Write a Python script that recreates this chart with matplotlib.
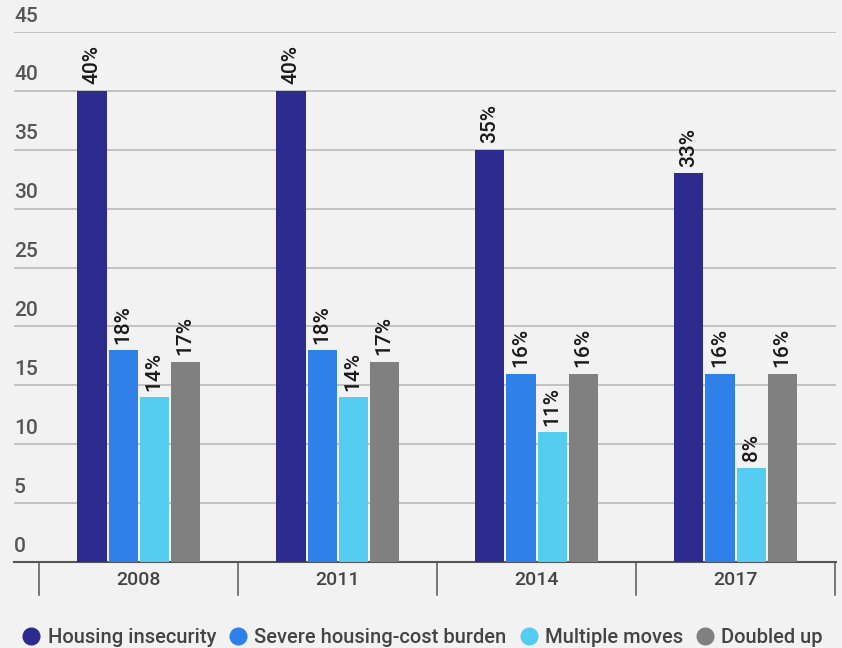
import matplotlib.pyplot as plt
from matplotlib.lines import Line2D
import numpy as np

plt.rcParams['font.family'] = ['Roboto', 'DejaVu Sans']

years = ['2008', '2011', '2014', '2017']
series = ['Housing insecurity', 'Severe housing-cost burden', 'Multiple moves', 'Doubled up']
housing_insecurity = [40, 40, 35, 33]
cost_burden = [18, 18, 16, 16]
multiple_moves = [14, 14, 11, 8]
doubled_up = [17, 17, 16, 16]
colors = ['#2e2b8f', '#2f80e8', '#55cdf0', '#808080']
bg = '#f2f2f2'

fig = plt.figure(figsize=(8.42, 6.48), dpi=100, facecolor=bg)
ax = fig.add_axes([14 / 842, 86 / 648, 822 / 842, 530 / 648], facecolor=bg)

x = np.arange(len(years))
width = 0.146
step = 0.156
data = [housing_insecurity, cost_burden, multiple_moves, doubled_up]
for i, (vals, col) in enumerate(zip(data, colors)):
    pos = x + (i - 1.5) * step
    ax.bar(pos, vals, width, color=col, zorder=3)
    for p, v in zip(pos, vals):
        ax.text(p, v + 0.55, f'{v}%', rotation=90, ha='center', va='bottom',
                fontsize=15, color='#1a1a1a', fontweight='medium', zorder=4)

ax.set_ylim(0, 45)
ax.set_xlim(-0.626, 3.505)

# horizontal grid lines with labels sitting above them
for t in range(5, 50, 5):
    ax.axhline(t, color='#b5b5b5', lw=1.1, zorder=1)
for t in range(0, 50, 5):
    ax.text(0.0, t + 0.55, str(t), transform=ax.get_yaxis_transform(),
            ha='left', va='bottom', fontsize=15, color='#555555', fontweight='medium')

ax.set_yticks([])
ax.set_xticks([])
for s in ['top', 'right', 'left']:
    ax.spines[s].set_visible(False)
ax.spines['bottom'].set_color('#555555')
ax.spines['bottom'].set_linewidth(1.5)

# category separators below the axis
for b in np.arange(-0.5, 4, 1):
    ax.plot([b, b], [0, -2.8], color='#555555', lw=1.1, clip_on=False)
for xi, yr in zip(x, years):
    ax.text(xi, -1.55, yr, ha='center', va='center', fontsize=14, color='#444444',
            fontweight='medium')

handles = [Line2D([], [], marker='o', linestyle='none', markersize=12,
                  markerfacecolor=c, markeredgecolor=c) for c in colors]
fig.legend(handles, series, loc='lower center', bbox_to_anchor=(0.5, -0.026), ncol=4,
           frameon=False, handletextpad=0.2, columnspacing=0.5, handlelength=1.2,
           labelcolor='#444444', prop={'size': 14.5, 'weight': 'medium'})

fig.savefig('out.png', dpi=100, facecolor=bg)
